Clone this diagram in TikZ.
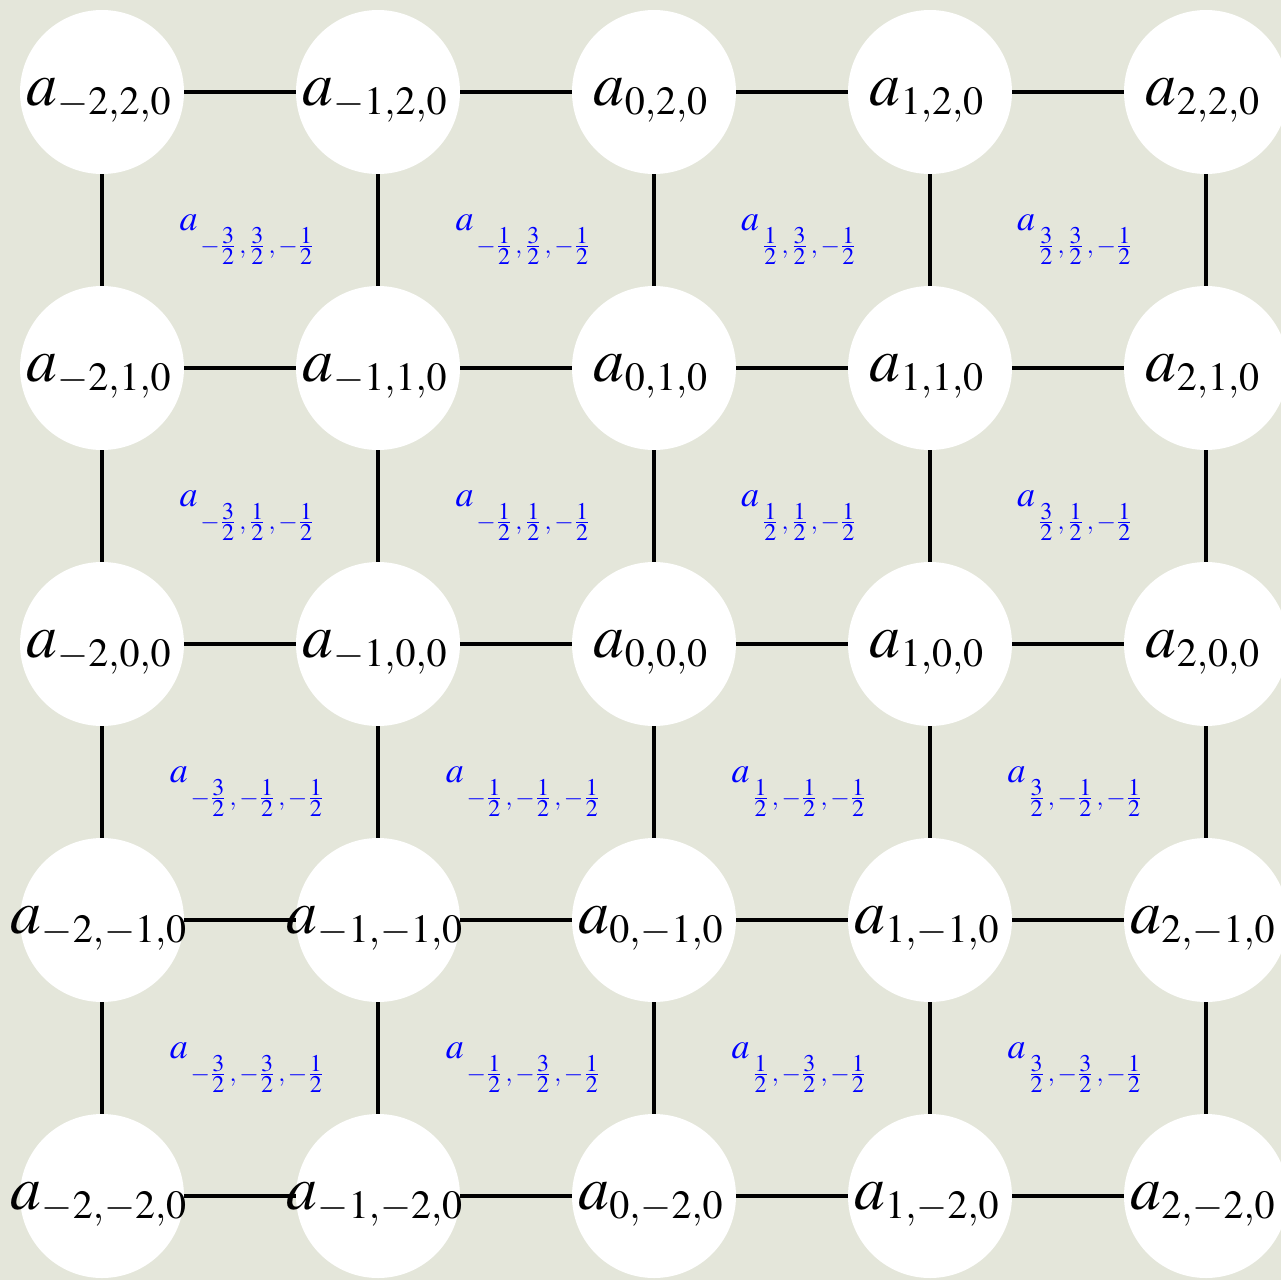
\documentclass[tikz,border=0pt]{standalone}
\usepackage{mathptmx}
\DeclareMathSizes{31}{31}{20}{14}
\DeclareMathSizes{18}{18}{12.5}{12}
\definecolor{bg}{RGB}{228,230,218}
\newcommand{\halfsub}[2]{a\raisebox{-11.6pt}{$\scriptstyle\,#1\,,\,#2\,,\,-\frac{1}{2}$}}
\begin{document}
\begin{tikzpicture}[x=0.5pt,y=-0.5pt,
  dot/.style={circle,fill=white,minimum size=82pt,inner sep=0pt},
  edge/.style={line width=2pt,black},
  big/.style={font=\fontsize{31}{37}\selectfont,inner sep=0pt,anchor=base},
  small/.style={font=\fontsize{18}{22}\selectfont,text=blue,inner sep=0pt,anchor=base}]
\useasboundingbox (0,0) rectangle (1281,1280);
\clip (0,0) rectangle (1281,1280);
\fill[bg] (0,0) rectangle (1281,1280);
\foreach \c in {0,...,4}{
  \foreach \r in {0,...,4}{
    \node[dot] (c\c\r) at (102+276*\c, 92+276*\r) {};
  }
}
\foreach \c in {0,...,3}{
  \foreach \r in {0,...,4}{
    \pgfmathtruncatemacro\n{\c+1}
    \draw[edge] (c\c\r) -- (c\n\r);
    \draw[edge] (c\r\c) -- (c\r\n);
  }
}
\foreach \c/\xl in {0/-2,1/-1,2/0,3/1,4/2}{
  \foreach \r/\yl in {0/2,1/1,2/0,3/-1,4/-2}{
    \node[big,xshift=-1.5pt,yshift=-6.5pt] (t\c\r) at (c\c\r) {$a_{\xl,\yl,0}$};
  }
}
\foreach \c/\xl in {0/{-\frac{3}{2}},1/{-\frac{1}{2}},2/{\frac{1}{2}},3/{\frac{3}{2}}}{
  \foreach \r/\yl in {0/{\frac{3}{2}},1/{\frac{1}{2}},2/{-\frac{1}{2}},3/{-\frac{3}{2}}}{
    \node[small] (h\c\r) at (247+276*\c, 230+276*\r) {$\halfsub{\xl}{\yl}$};
  }
}
\end{tikzpicture}
\end{document}
